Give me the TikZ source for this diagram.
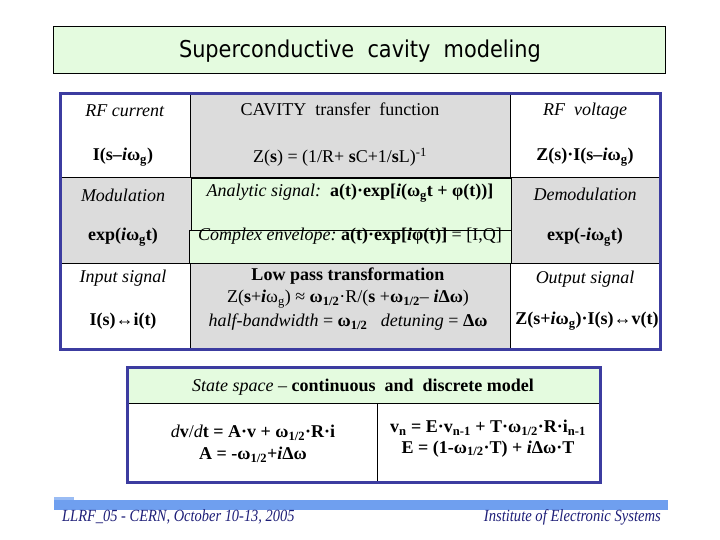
\documentclass[tikz,border=0pt]{standalone}
\usepackage{fontspec}
\usepackage{graphicx}
\setmainfont{Liberation Serif}
\newfontfamily\titlefont{DejaVu Sans Condensed}
\newcommand{\bi}[1]{\textbf{\textit{#1}}}
\newcommand{\sbs}[1]{\textsubscript{#1}}
\definecolor{ttlgreen}{HTML}{E4FBDF}
\definecolor{cellgrey}{HTML}{DCDCDC}
\definecolor{frameblue}{HTML}{3C3CA0}
\definecolor{barblue}{HTML}{6F9FEF}
\definecolor{footnavy}{HTML}{1E1E78}
\tikzset{
  cell/.style={inner sep=0pt, font=\fontsize{18}{21}\selectfont, align=center},
  foot/.style={inner sep=0pt, font=\fontsize{17}{20}\selectfont\itshape, text=footnavy},
  thinline/.style={draw=black, line width=0.8pt},
  frame/.style={draw=frameblue, line width=3pt},
}
\begin{document}
\begin{tikzpicture}[x=1pt,y=-1pt]
\useasboundingbox (0,0) rectangle (720,540);
\fill[white] (0,0) rectangle (720,540);
% title
\draw[fill=ttlgreen, line width=1pt] (53,27) rectangle (665,74);
\node[inner sep=0pt, font=\titlefont\fontsize{23.2}{26}\selectfont] (title) at (360,51) {Superconductive\ \ cavity\ \ modeling};
% main table fills
\fill[cellgrey] (60,94) rectangle (660,349);
\fill[white] (60,94) rectangle (190,177);
\fill[white] (510,94) rectangle (660,177);
\fill[white] (60,263) rectangle (190,349);
\fill[white] (510,263) rectangle (660,349);
\draw[thinline] (60,177) -- (660,177);
\draw[thinline] (60,263) -- (660,263);
\draw[thinline] (190,94) -- (190,177);
\draw[thinline] (190,263) -- (190,349);
\draw[thinline] (510,94) -- (510,349);
\draw[thinline, fill=ttlgreen] (191,178) rectangle (511,230);
\draw[thinline, fill=ttlgreen] (189,230) rectangle (511,263);
\draw[frame] (60,94) rectangle (660,349);
% row 1
\node[cell] (rfc) at (125,111) {\textit{RF current}};
\node[cell] (ics) at (123,157) {\textbf{I(s–\bi{i}ω\sbs{g})}};
\node[cell] (cav) at (340,109) {CAVITY\ \ transfer\ \ function};
\node[cell] (zs) at (340,157) {Z(\textbf{s}) = (1/R+ \textbf{s}C+1/\textbf{s}L)\textsuperscript{-1}};
\node[cell] (rfv) at (585,111) {\textit{RF\ \ voltage}};
\node[cell] (zis) at (585,157) {\textbf{Z(s)·I(s–\bi{i}ω\sbs{g})}};
% row 2
\node[cell] (mod) at (123,195) {\textit{Modulation}};
\node[cell] (expp) at (123,237) {\textbf{exp(\bi{i}ω\sbs{g}t)}};
\node[cell] (ana) at (350,193) {\textit{Analytic signal:}\ \ \textbf{a(t)·exp[\bi{i}(ω\sbs{g}t + φ(t))]}};
\node[cell] (cenv) at (350,236) {\textit{Complex envelope:}\ \textbf{a(t)·exp[\bi{i}φ(t)]} = [I,Q]};
\node[cell] (demod) at (585,194) {\textit{Demodulation}};
\node[cell] (expm) at (585,237) {\textbf{exp(-\bi{i}ω\sbs{g}t)}};
% row 3
\node[cell] (ins) at (123,278) {\textit{Input signal}};
\node[cell] (iit) at (123,321) {\textbf{I(s)↔i(t)}};
\node[cell] (lp1) at (348,276) {\textbf{Low pass transformation}};
\node[cell] (lp2) at (348,299) {Z(\textbf{s}+\bi{i}ω\sbs{g}) ≈ \textbf{ω\sbs{1/2}}·R/(\textbf{s} +\textbf{ω\sbs{1/2}}– \bi{i}\textbf{Δω})};
\node[cell] (lp3) at (348,322) {\textit{half-bandwidth} = \textbf{ω\sbs{1/2}}\ \ \ \textit{detuning} = \textbf{Δω}};
\node[cell] (outs) at (585,279) {\textit{Output signal}};
\node[cell] (zvt) at (587,321) {\textbf{Z(s+\bi{i}ω\sbs{g})·I(s)↔v(t)}};
% state space
\fill[white] (127,367) rectangle (600,482);
\fill[ttlgreen] (127,367) rectangle (600,403);
\draw[thinline] (127,403) -- (600,403);
\draw[thinline] (377,403) -- (377,482);
\draw[frame] (127,367) rectangle (600,482);
\node[cell] (ssh) at (363,387) {\textit{State space} – \textbf{continuous\ \ and\ \ discrete model}};
\node[cell] (ss1) at (253,433) {\textit{d}\textbf{v}/\textit{d}\textbf{t = A·v + ω\sbs{1/2}·R·i}};
\node[cell] (ss2) at (253,455) {\textbf{A = -ω\sbs{1/2}+\bi{i}Δω}};
\node[cell] (ss3) at (488,428) {\textbf{v\sbs{n} = E·v\sbs{n-1} + T·ω\sbs{1/2}·R·i\sbs{n-1}}};
\node[cell] (ss4) at (488,449) {\textbf{E = (1-ω\sbs{1/2}·T) + \bi{i}Δω·T}};
% footer
\fill[barblue] (54,500) rectangle (668,510);
\fill[barblue!70] (54,497) rectangle (74,500);
\node[foot, anchor=west] (fl) at (62,517) {\scalebox{0.85}[1]{LLRF\_05 - CERN, October 10-13, 2005}};
\node[foot, anchor=east] (fr) at (661,517) {\scalebox{0.86}[1]{Institute of Electronic Systems}};
\end{tikzpicture}
\end{document}
